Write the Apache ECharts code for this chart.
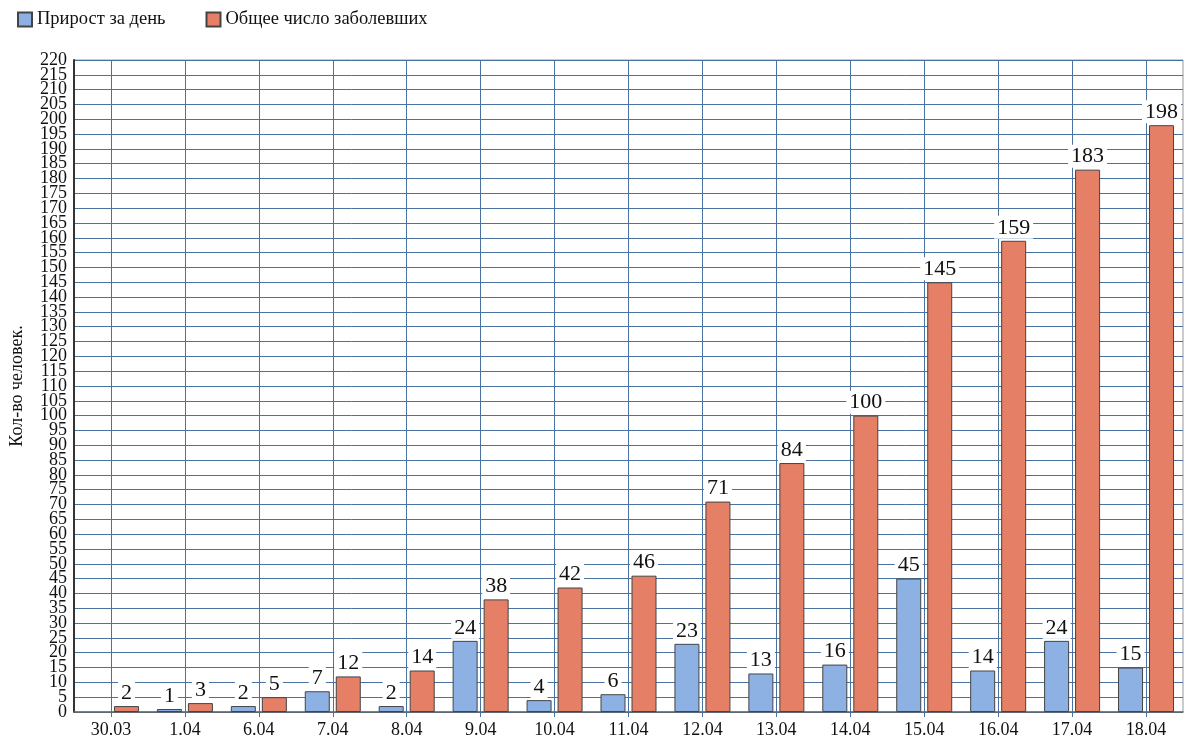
<!DOCTYPE html>
<html><head><meta charset="utf-8">
<script src="https://cdn.jsdelivr.net/npm/echarts@6/dist/echarts.min.js"></script>
<style>html,body{margin:0;padding:0;background:#fff}#c{width:1200px;height:751px}</style>
</head><body><div id="c"></div>
<script>
const categories = ['30.03','1.04','6.04','7.04','8.04','9.04','10.04','11.04','12.04','13.04','14.04','15.04','16.04','17.04','18.04'];
const dailyGrowth = [null,1,2,7,2,24,4,6,23,13,16,45,14,24,15];
const totalCases = [2,3,5,12,14,38,42,46,71,84,100,145,159,183,198];
const seriesNames = ['Прирост за день','Общее число заболевших'];
const yMin = 0, yMax = 220, yStep = 5;

const font = '"Liberation Serif","DejaVu Serif",serif';
const labelStyle = {
  show: true, position: 'top', distance: 2,
  fontFamily: font, fontSize: 22, color: '#111',
  backgroundColor: '#fff', padding: [1, 3, 0, 3], lineHeight: 22
};
const yLabelBase = { fontFamily: font, fontSize: 18, color: '#111', margin: 7, lineHeight: 14 };
const chart = echarts.init(document.getElementById('c'));
chart.setOption({
  animation: false,
  textStyle: { fontFamily: font },
  legend: {
    left: 12, top: 5, itemWidth: 14, itemHeight: 14, itemGap: 40,
    textStyle: { fontFamily: font, fontSize: 18.5, color: '#111' },
    icon: 'rect'
  },
  grid: { left: 70, right: 17, top: 60, bottom: 39, show: true, borderColor: '#999', borderWidth: 1 },
  xAxis: {
    type: 'category', data: categories,
    axisLine: { lineStyle: { color: '#666', width: 1.5 } },
    axisTick: { show: true, alignWithLabel: true, length: 5, lineStyle: { color: '#4a72a0' } },
    axisLabel: { fontFamily: font, fontSize: 18, color: '#111', margin: 9 },
    splitLine: { show: true, alignWithLabel: true, lineStyle: { color: '#4a72a0', width: 1 } }
  },
  yAxis: [{
    type: 'value', min: yMin, max: yMax, interval: yStep,
    name: 'Кол-во человек.', nameLocation: 'middle', nameGap: 48,
    nameTextStyle: { fontFamily: font, fontSize: 18, color: '#111' },
    axisLine: { show: true, lineStyle: { color: '#333', width: 2 } },
    axisTick: { show: false },
    axisLabel: Object.assign({ showMinLabel: false, showMaxLabel: false }, yLabelBase),
    splitLine: { show: true, lineStyle: { color: '#4a72a0', width: 1 } }
  }, {
    type: 'value', min: yMin, max: yMax, interval: yStep, position: 'left',
    axisLine: { show: false }, axisTick: { show: false }, splitLine: { show: false },
    axisLabel: Object.assign({ showMinLabel: true, showMaxLabel: true,
      formatter: v => (v === yMin || v === yMax) ? String(v) : '' }, yLabelBase)
  }],
  series: [
    { name: seriesNames[0], type: 'bar', data: dailyGrowth, barWidth: 25, barGap: '24%',
      itemStyle: { color: '#8eb1e4', borderColor: '#444', borderWidth: 1 }, label: labelStyle },
    { name: seriesNames[1], type: 'bar', data: totalCases, barWidth: 25,
      itemStyle: { color: '#e57f66', borderColor: '#444', borderWidth: 1 }, label: labelStyle }
  ]
});
</script></body></html>
